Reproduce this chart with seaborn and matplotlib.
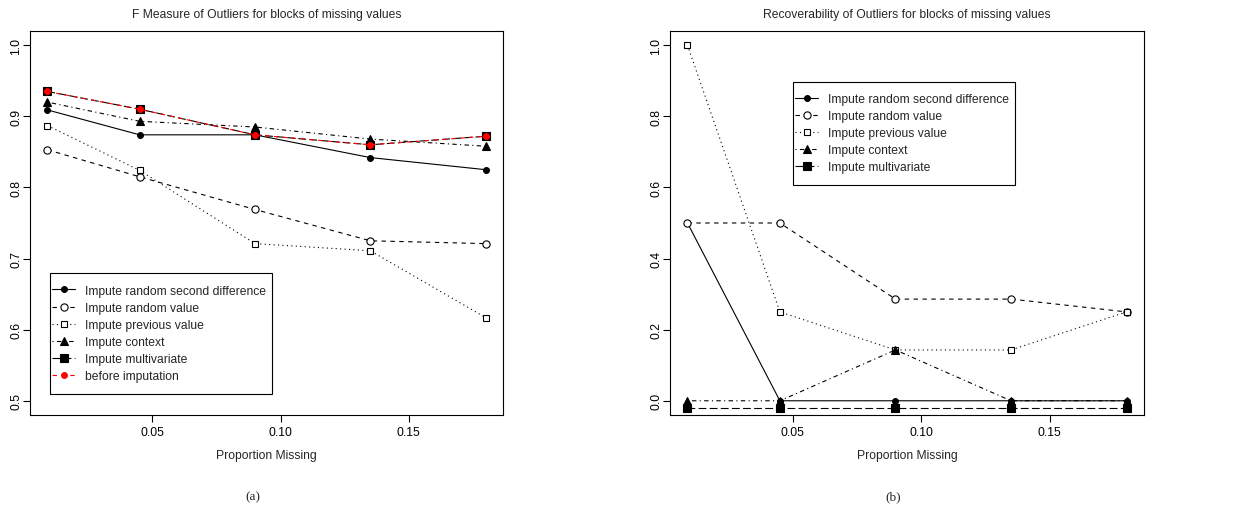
import numpy as np
import pandas as pd
import matplotlib
matplotlib.use("Agg")
import matplotlib.pyplot as plt
from matplotlib.patches import Rectangle
import seaborn as sns

sns.set_theme(style="white")
plt.rcParams.update({
    "font.family": ["Liberation Sans", "DejaVu Sans"],
    "axes.edgecolor": "black",
    "axes.linewidth": 0.8,
    "xtick.color": "black",
    "ytick.color": "black",
})

# proportion missing
prop_missing = [0.009, 0.045, 0.09, 0.135, 0.18]

# (a) F measure
f_rand_second_diff = [0.909, 0.874, 0.874, 0.842, 0.825]
f_rand_value = [0.853, 0.815, 0.769, 0.725, 0.721]
f_prev_value = [0.887, 0.824, 0.721, 0.711, 0.617]
f_context = [0.920, 0.893, 0.885, 0.868, 0.858]
f_multivariate = [0.935, 0.910, 0.874, 0.860, 0.872]
f_before = [0.935, 0.910, 0.874, 0.860, 0.872]

# (b) recoverability
r_rand_second_diff = [0.5, 0.0, 0.0, 0.0, 0.0]
r_rand_value = [0.5, 0.5, 0.286, 0.286, 0.25]
r_prev_value = [1.0, 0.25, 0.143, 0.143, 0.25]
r_context = [0.0, 0.0, 0.143, 0.0, 0.0]
r_multivariate = [-0.02, -0.02, -0.02, -0.02, -0.02]

labels = ["Impute random second difference", "Impute random value",
          "Impute previous value", "Impute context", "Impute multivariate"]

# R-like line types / plotting symbols
styles = [
    dict(linestyle="-", marker="o", markersize=4.2, markerfacecolor="black"),
    dict(linestyle=(0, (4, 4)), marker="o", markersize=5.2, markerfacecolor="white"),
    dict(linestyle=(0, (1, 3)), marker="s", markersize=4.8, markerfacecolor="white"),
    dict(linestyle=(0, (1, 3, 4, 3)), marker="^", markersize=6, markerfacecolor="black"),
    dict(linestyle=(0, (7, 3)), marker="s", markersize=5.5, markerfacecolor="black"),
]

FS = 8.7

def draw_panel(ax, series, title, ylim, yticks):
    for vals, lab, st in zip(series, labels, styles):
        sns.lineplot(x=prop_missing, y=vals, ax=ax, color="black", linewidth=0.8,
                     markeredgecolor="black", markeredgewidth=0.8, label=lab,
                     dashes=False, **st)
    ax.set_xlim(0.0022, 0.1868)
    ax.set_ylim(*ylim)
    ax.set_xticks([0.05, 0.10, 0.15])
    ax.set_xticklabels(["0.05", "0.10", "0.15"], fontsize=FS)
    ax.set_yticks(yticks)
    ax.set_yticklabels([f"{v:.1f}" for v in yticks], fontsize=FS, rotation=90, va="center")
    ax.tick_params(direction="out", length=5, width=0.8, pad=3,
                   bottom=True, left=True)
    ax.tick_params(axis="y", pad=0.5)
    ax.set_xlabel("Proportion Missing", fontsize=FS, labelpad=8)
    ax.set_ylabel("")
    ax.set_title(title, fontsize=FS, pad=10)
    for s in ax.spines.values():
        s.set_color("black")
        s.set_linewidth(0.8)


def boxed_legend(ax, x0, y0, w, h):
    # R-style legend: box with more room above/below than at the sides
    ax.add_patch(Rectangle((x0, y0), w, h, transform=ax.transAxes,
                           facecolor="white", edgecolor="black",
                           linewidth=0.8, zorder=4.5))
    ax.legend(loc="center left", bbox_to_anchor=(x0, y0 + h / 2),
              fontsize=FS, frameon=False, handlelength=1.9,
              handletextpad=0.8, labelspacing=0.42, borderpad=0.2,
              borderaxespad=0).set_zorder(5)


fig = plt.figure(figsize=(12.44, 5.1), dpi=100)
ax1 = fig.add_axes([30 / 1244, 94 / 510, 473 / 1244, 384 / 510])
ax2 = fig.add_axes([670 / 1244, 94 / 510, 474 / 1244, 384 / 510])

draw_panel(ax1, [f_rand_second_diff, f_rand_value, f_prev_value, f_context, f_multivariate],
           "F Measure of Outliers for blocks of missing values",
           (0.48, 1.02), [0.5, 0.6, 0.7, 0.8, 0.9, 1.0])
sns.lineplot(x=prop_missing, y=f_before, ax=ax1, color="red", linewidth=0.8,
             linestyle=(0, (4, 4)), marker="o", markersize=4.2,
             markerfacecolor="red", markeredgecolor="red", label="before imputation")

draw_panel(ax2, [r_rand_second_diff, r_rand_value, r_prev_value, r_context, r_multivariate],
           "Recoverability of Outliers for blocks of missing values",
           (-0.04, 1.04), [0.0, 0.2, 0.4, 0.6, 0.8, 1.0])

boxed_legend(ax1, 0.042, 0.055, 0.469, 0.315)
boxed_legend(ax2, 0.259, 0.600, 0.468, 0.268)

fig.text(253 / 1244, 1 - 497 / 510, "(a)", ha="center", va="center",
         fontsize=9.5, family=["Liberation Serif", "DejaVu Serif"])
fig.text(893 / 1244, 1 - 497 / 510, "(b)", ha="center", va="center",
         fontsize=9.5, family=["Liberation Serif", "DejaVu Serif"])

fig.savefig("out.png", dpi=100)
